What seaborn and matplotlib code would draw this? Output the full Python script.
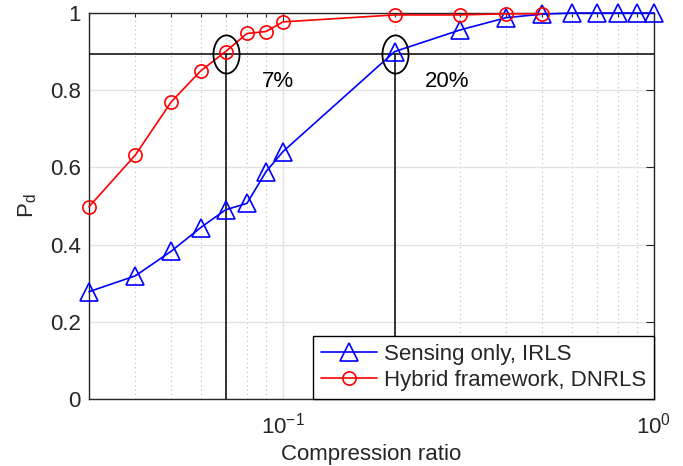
import matplotlib
matplotlib.use('Agg')
import matplotlib.pyplot as plt
import matplotlib.path as mpath
from matplotlib.transforms import Affine2D
from matplotlib.ticker import LogLocator, NullFormatter
import pandas as pd
import seaborn as sns

# compression ratio vs detection probability
ratio_irls = [0.03, 0.04, 0.05, 0.06, 0.07, 0.08, 0.09, 0.1, 0.2, 0.3, 0.4, 0.5,
              0.6, 0.7, 0.8, 0.9, 1.0]
pd_irls = [0.278, 0.319, 0.383, 0.444, 0.49, 0.507, 0.589, 0.641, 0.90, 0.956,
           0.988, 0.997, 1.0, 1.0, 1.0, 1.0, 1.0]

ratio_dnrls = [0.03, 0.04, 0.05, 0.06, 0.07, 0.08, 0.09, 0.1, 0.2, 0.3, 0.4, 0.5]
pd_dnrls = [0.498, 0.632, 0.770, 0.850, 0.90, 0.947, 0.952, 0.977, 0.995, 0.995,
            0.998, 0.998]

# 90% detection threshold and where each method reaches it
threshold = 0.895
cross_x = [0.07, 0.2]
cross_labels = ['7%', '20%']
label_x = [0.097, 0.277]
label_y = 0.808

ytick_vals = [0, 0.2, 0.4, 0.6, 0.8, 1]
ytick_labels = ['0', '0.2', '0.4', '0.6', '0.8', '1']

sns.set_style('white')
plt.rcParams['font.family'] = ['Liberation Sans', 'DejaVu Sans']
plt.rcParams['mathtext.fontset'] = 'custom'
plt.rcParams['mathtext.rm'] = 'Liberation Sans'
plt.rcParams['mathtext.it'] = 'Liberation Sans:italic'
plt.rcParams['axes.unicode_minus'] = False
FS = 16
dark = (0.15, 0.15, 0.15)

df_irls = pd.DataFrame({'ratio': ratio_irls, 'pd': pd_irls})
df_dnrls = pd.DataFrame({'ratio': ratio_dnrls, 'pd': pd_dnrls})

fig = plt.figure(figsize=(6.83, 4.66), dpi=100)
ax = fig.add_axes([0.1303, 0.1438, 0.8272, 0.8283])

sns.lineplot(data=df_irls, x='ratio', y='pd', ax=ax, color='b', lw=1.2,
             marker='^', ms=13, mfc='none', mec='b', mew=1.2,
             label='Sensing only, IRLS', zorder=4, clip_on=False)
sns.lineplot(data=df_dnrls, x='ratio', y='pd', ax=ax, color='r', lw=1.2,
             marker='o', ms=9.5, mfc='none', mec='r', mew=1.2,
             label='Hybrid framework, DNRLS', zorder=4, clip_on=False)

ax.set_xscale('log')
ax.set_xlim(0.03, 1)
ax.set_ylim(0, 1)

# threshold line, drop lines and ellipses
ax.axhline(threshold, color='k', lw=1.1, zorder=3)
ax.vlines(cross_x, 0, threshold, color='k', lw=1.1, zorder=3)
ellipse = mpath.Path.unit_circle().transformed(Affine2D().scale(26 / 38, 1))
ax.plot(cross_x, [threshold] * len(cross_x), ls='none', marker=ellipse,
        ms=27.5, mfc='none', mec='k', mew=1.3, zorder=5)
for x, t in zip(label_x, cross_labels):
    ax.text(x, label_y, t, ha='center', va='baseline', fontsize=FS, color='k')

ax.xaxis.set_major_locator(LogLocator(base=10))
ax.xaxis.set_minor_locator(LogLocator(base=10, subs=range(2, 10)))
ax.xaxis.set_minor_formatter(NullFormatter())
ax.set_yticks(ytick_vals)
ax.set_yticklabels(ytick_labels)

ax.grid(True, which='major', color='#e2e2e2', lw=1, ls='-')
ax.grid(True, which='minor', axis='x', color='#b8b8b8', lw=0.8, ls=(0, (1, 3)))
ax.set_axisbelow(True)

ax.tick_params(which='both', direction='in', top=True, right=True,
               colors=dark, labelsize=FS, width=0.8)
ax.tick_params(which='major', length=6)
ax.tick_params(which='minor', length=3)
ax.tick_params(axis='x', which='major', pad=10)
ax.tick_params(axis='y', pad=6)
for s in ax.spines.values():
    s.set_color(dark)
    s.set_linewidth(1.0)

ax.set_xlabel('Compression ratio', fontsize=FS, color=dark, labelpad=4)
ax.set_ylabel(r'P$_\mathregular{d}$', fontsize=FS, color=dark, labelpad=8)

leg = ax.legend(loc='lower right', borderaxespad=0, fancybox=False,
                edgecolor='k', framealpha=1, fontsize=FS, handlelength=2.55,
                handletextpad=0.3, labelspacing=0.25, borderpad=0.35)
leg.get_frame().set_linewidth(1.0)

fig.savefig('out.png', dpi=100)
